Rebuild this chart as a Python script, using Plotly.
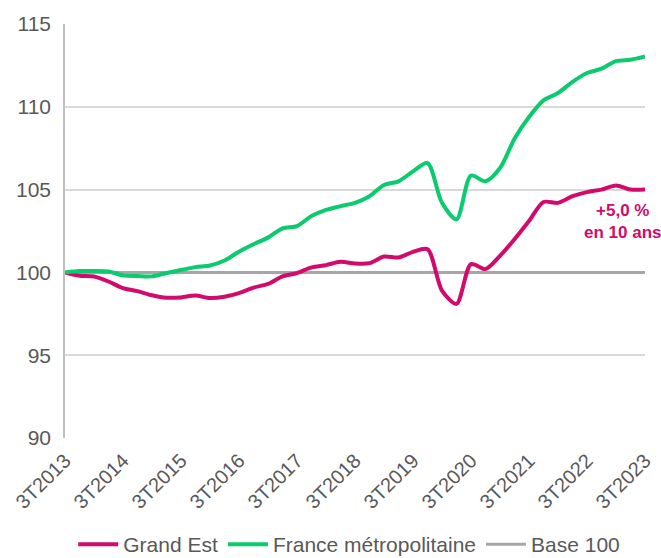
import plotly.graph_objects as go

quarters = [
    "3T2013", "4T2013", "1T2014", "2T2014", "3T2014", "4T2014", "1T2015", "2T2015",
    "3T2015", "4T2015", "1T2016", "2T2016", "3T2016", "4T2016", "1T2017", "2T2017",
    "3T2017", "4T2017", "1T2018", "2T2018", "3T2018", "4T2018", "1T2019", "2T2019",
    "3T2019", "4T2019", "1T2020", "2T2020", "3T2020", "4T2020", "1T2021", "2T2021",
    "3T2021", "4T2021", "1T2022", "2T2022", "3T2022", "4T2022", "1T2023", "2T2023",
    "3T2023",
]

grand_est = [
    100.0, 99.8, 99.75, 99.45, 99.05, 98.87, 98.62, 98.47,
    98.49, 98.6, 98.45, 98.53, 98.75, 99.08, 99.3, 99.76,
    99.96, 100.3, 100.44, 100.64, 100.54, 100.56, 100.96, 100.9,
    101.24, 101.4, 98.9, 98.1, 100.5, 100.2, 101.0, 102.0,
    103.1, 104.25, 104.2, 104.6, 104.85, 105.0, 105.25, 105.0,
    105.0,
]

france = [
    100.0, 100.08, 100.08, 100.05, 99.82, 99.78, 99.76, 99.96,
    100.14, 100.32, 100.42, 100.72, 101.25, 101.7, 102.1, 102.66,
    102.8, 103.4, 103.77, 104.0, 104.2, 104.6, 105.28, 105.5,
    106.1, 106.6, 104.2, 103.2, 105.85, 105.5, 106.3, 108.07,
    109.38, 110.39, 110.83, 111.5, 112.04, 112.3, 112.76, 112.84,
    113.04,
]

base_100 = [100.0] * len(quarters)

tick_labels = ["3T2013", "3T2014", "3T2015", "3T2016", "3T2017", "3T2018",
               "3T2019", "3T2020", "3T2021", "3T2022", "3T2023"]

y_ticks = [90, 95, 100, 105, 110, 115]

RED = "#D20A6C"
GREEN = "#0ACB6E"
GREY = "#A6A6A6"
TXT = "#595959"
FONT = "Arial, Liberation Sans, sans-serif"

fig = go.Figure()

fig.add_trace(go.Scatter(
    x=quarters, y=base_100, name="Base 100", mode="lines",
    line=dict(color=GREY, width=3), legendrank=3,
))
fig.add_trace(go.Scatter(
    x=quarters, y=grand_est, name="Grand Est", mode="lines",
    line=dict(color=RED, width=4, shape="spline", smoothing=0.8), legendrank=1,
))
fig.add_trace(go.Scatter(
    x=quarters, y=france, name="France métropolitaine", mode="lines",
    line=dict(color=GREEN, width=4, shape="spline", smoothing=0.8), legendrank=2,
))

fig.add_annotation(
    x=quarters[38], y=103.1, xref="x", yref="y",
    text="<b>+5,0 %<br>en 10 ans</b>", showarrow=False,
    font=dict(family=FONT, size=17, color=RED), align="center",
    xshift=7,
)

fig.update_layout(
    width=661, height=558,
    margin=dict(l=65, r=16, t=24, b=120, autoexpand=False),
    paper_bgcolor="white", plot_bgcolor="white",
    font=dict(family=FONT, size=21, color=TXT),
    showlegend=True,
    legend=dict(
        orientation="h", x=0.49, xanchor="center",
        yref="container", y=0.024, yanchor="middle",
        font=dict(family=FONT, size=21, color=TXT),
        traceorder="normal", itemwidth=40,
        bgcolor="rgba(0,0,0,0)",
    ),
)

fig.update_xaxes(
    type="category", range=[0, len(quarters) - 1],
    tickmode="array", tickvals=tick_labels, ticktext=tick_labels,
    tickangle=-45, tickfont=dict(family=FONT, size=20, color=TXT),
    showgrid=False, zeroline=False, showline=False, ticks="",
    automargin=False, ticklabelstandoff=6,
)

fig.update_yaxes(
    range=[90, 115], tickmode="array", tickvals=y_ticks,
    tickfont=dict(family=FONT, size=21, color=TXT),
    showgrid=True, gridcolor="#D9D9D9", gridwidth=1.5,
    zeroline=False, showline=True, linecolor="#BFBFBF", linewidth=1.5,
    ticks="", ticklabelstandoff=8, automargin=False,
)

fig.write_html(
    "out.html",
    config={"displayModeBar": False},
    post_script="document.body.style.margin='0';document.body.style.overflow='hidden';",
)
